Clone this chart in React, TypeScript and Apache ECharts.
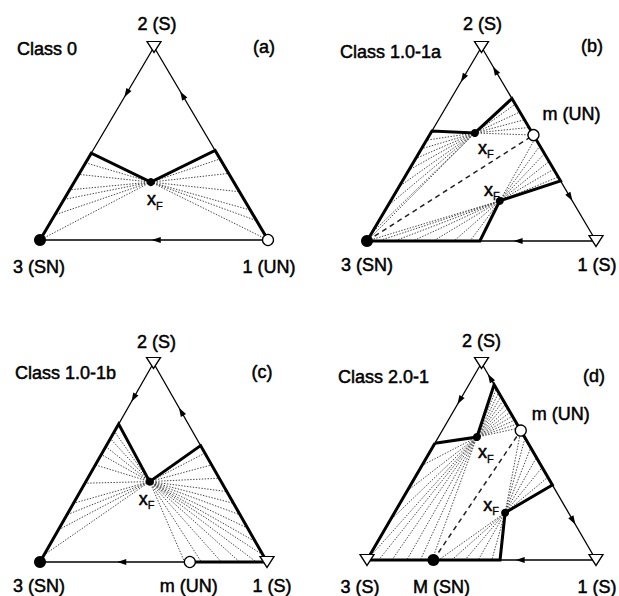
import { useEffect, useRef } from "react";
import * as echarts from "echarts";

type Pt = [number, number];

const FONT = '"Liberation Sans", Arial, Helvetica, sans-serif';
const FONT_SIZE = 18;
const INK = "#000";

// Triangle corners in composition space: 3 bottom-left, 1 bottom-right, 2 apex.
const CORNER3: Pt = [0, 0];
const CORNER1: Pt = [1, 0];
const APEX: Pt = [0.5, 1];
const onLeft = (t: number): Pt => [t / 2, t]; // edge 3-2, t = height fraction
const onRight = (t: number): Pt => [1 - t / 2, t]; // edge 1-2
const onBase = (s: number): Pt => [s, 0]; // edge 3-1

// ---- (a) Class 0 ----
const aFeed: Pt = [0.486, 0.3];
const aLeftKink = 0.45;
const aRightKink = 0.464;
const aFanLeft = [0, 0.13, 0.21, 0.26, 0.34, 0.4];
const aFanRight = [0, 0.1, 0.155, 0.25, 0.345, 0.42];
const aArrows: [string, number][] = [["left-down", 0.76], ["right-up", 0.75], ["base-left", 0.51]];

// ---- (b) Class 1.0-1a ----
const bFeedTop: Pt = [0.471, 0.557];
const bFeedLow: Pt = [0.58, 0.207];
const bSaddle = 0.546;
const bLeftKink = 0.567;
const bRightKinkTop = 0.734;
const bRightKinkLow = 0.31;
const bBaseKink = 0.493;
const bFanTopLeft = [0, 0.04, 0.18, 0.28, 0.365, 0.425, 0.475, 0.52];
const bFanTopRight = [0.546, 0.585, 0.625, 0.665, 0.705];
const bFanLowBase = [0, 0.05, 0.12, 0.2, 0.29, 0.38, 0.45];
const bFanLowRight = [0.33, 0.37, 0.41, 0.45, 0.49, 0.53];
const bArrows: [string, number][] = [["left-down", 0.84], ["right-up", 0.88], ["right-down", 0.226], ["base-left", 0.66]];

// ---- (c) Class 1.0-1b ----
const cFeed: Pt = [0.483, 0.404];
const cSaddle = 0.66;
const cLeftKink = 0.693;
const cRightKink = 0.585;
const cFanLeft = [0.035, 0.161, 0.237, 0.295, 0.396, 0.488, 0.54, 0.58, 0.62, 0.656];
const cFanRight = [0.035, 0.102, 0.17, 0.237, 0.295, 0.354, 0.421, 0.488, 0.547];
const cFanBase = [0.637, 0.711, 0.799, 0.88, 0.953];
const cArrows: [string, number][] = [["left-down", 0.825], ["right-up", 0.756], ["base-left", 0.36]];

// ---- (d) Class 2.0-1 ----
const dFeedTop: Pt = [0.48, 0.624];
const dFeedLow: Pt = [0.603, 0.24];
const dSaddle = 0.657;
const dNode = 0.29;
const dLeftKink = 0.593;
const dRightKinkTop = 0.89;
const dRightKinkLow = 0.381;
const dBaseKink = 0.581;
const dFanTopRight = [0.67, 0.69, 0.71, 0.73, 0.75, 0.77, 0.79, 0.81, 0.83, 0.85, 0.87];
const dFanTopLeft = [0.2, 0.35, 0.48];
const dFanTopBase = [0, 0.051, 0.109, 0.174, 0.233, 0.284];
const dFanLowRight = [0.42, 0.47, 0.52, 0.57, 0.62, 0.657];
const dFanLowBase = [0.313, 0.37, 0.428, 0.486, 0.545];
const dArrows: [string, number][] = [["left-down", 0.81], ["right-up", 0.924], ["right-down", 0.2], ["base-left", 0.669]];

const classNames = ["Class 0", "Class 1.0-1a", "Class 1.0-1b", "Class 2.0-1"];
const panelTags = ["(a)", "(b)", "(c)", "(d)"];

// Pixel frame of each triangle (base from left to right, apex at top)
const FRAMES = [
  { left: 40, top: 47, width: 228, height: 193 },
  { left: 367, top: 47, width: 229, height: 194 },
  { left: 40, top: 363, width: 227, height: 199 },
  { left: 367, top: 363, width: 229, height: 197 },
];
const TITLE_POS = [
  { cls: [17, 49], tag: [264, 47] },
  { cls: [340, 52], tag: [592, 46] },
  { cls: [15, 373], tag: [262, 372] },
  { cls: [338, 377], tag: [594, 376] },
];

type NodeKind = "stable" | "unstable" | "node";
interface NodeSpec { kind: NodeKind; p: Pt; label: string; offset: [number, number] }
interface Panel {
  bold: Pt[][];
  fans: [Pt, Pt][];
  dashed: [Pt, Pt][];
  arrows: [string, number][];
  nodes: NodeSpec[];
  feeds: { p: Pt; offset: [number, number] }[];
}

const fan = (from: Pt, ends: number[], edge: (v: number) => Pt): [Pt, Pt][] =>
  ends.map((v) => [from, edge(v)] as [Pt, Pt]);

const panels: Panel[] = [
  {
    bold: [[CORNER3, onLeft(aLeftKink), aFeed, onRight(aRightKink), CORNER1]],
    fans: [...fan(aFeed, aFanLeft, onLeft), ...fan(aFeed, aFanRight, onRight)],
    dashed: [],
    arrows: aArrows,
    nodes: [
      { kind: "stable", p: APEX, label: "2 (S)", offset: [3, -23] },
      { kind: "node", p: CORNER3, label: "3 (SN)", offset: [-1, 27] },
      { kind: "unstable", p: CORNER1, label: "1 (UN)", offset: [1, 27] },
    ],
    feeds: [{ p: aFeed, offset: [4, 17] }],
  },
  {
    bold: [[CORNER3, onBase(bBaseKink), bFeedLow, onRight(bRightKinkLow), onRight(bRightKinkTop), bFeedTop, onLeft(bLeftKink), CORNER3]],
    fans: [
      ...fan(bFeedTop, bFanTopLeft, onLeft),
      ...fan(bFeedTop, bFanTopRight, onRight),
      ...fan(bFeedLow, bFanLowBase, onBase),
      ...fan(bFeedLow, bFanLowRight, onRight),
    ],
    dashed: [[CORNER3, onRight(bSaddle)]],
    arrows: bArrows,
    nodes: [
      { kind: "stable", p: APEX, label: "2 (S)", offset: [1, -23] },
      { kind: "node", p: CORNER3, label: "3 (SN)", offset: [0, 24] },
      { kind: "stable", p: CORNER1, label: "1 (S)", offset: [1, 24] },
      { kind: "unstable", p: onRight(bSaddle), label: "m (UN)", offset: [38, -21] },
    ],
    feeds: [
      { p: bFeedTop, offset: [11, 15] },
      { p: bFeedLow, offset: [-8, -11] },
    ],
  },
  {
    bold: [[CORNER3, onLeft(cLeftKink), cFeed, onRight(cRightKink), CORNER1], [onBase(cSaddle), CORNER1]],
    fans: [...fan(cFeed, cFanLeft, onLeft), ...fan(cFeed, cFanRight, onRight), ...fan(cFeed, cFanBase, onBase)],
    dashed: [],
    arrows: cArrows,
    nodes: [
      { kind: "stable", p: APEX, label: "2 (S)", offset: [3, -21] },
      { kind: "node", p: CORNER3, label: "3 (SN)", offset: [-1, 24] },
      { kind: "unstable", p: onBase(cSaddle), label: "m (UN)", offset: [-1, 24] },
      { kind: "stable", p: CORNER1, label: "1 (S)", offset: [5, 24] },
    ],
    feeds: [{ p: cFeed, offset: [-3, 17] }],
  },
  {
    bold: [[onLeft(dLeftKink), dFeedTop, onRight(dRightKinkTop), onRight(dRightKinkLow), dFeedLow, onBase(dBaseKink), CORNER3, onLeft(dLeftKink)]],
    fans: [
      ...fan(dFeedTop, dFanTopRight, onRight),
      ...fan(dFeedTop, dFanTopLeft, onLeft),
      ...fan(dFeedTop, dFanTopBase, onBase),
      ...fan(dFeedLow, dFanLowRight, onRight),
      ...fan(dFeedLow, dFanLowBase, onBase),
    ],
    dashed: [[onBase(dNode), onRight(dSaddle)]],
    arrows: dArrows,
    nodes: [
      { kind: "stable", p: APEX, label: "2 (S)", offset: [0, -22] },
      { kind: "stable", p: CORNER3, label: "3 (S)", offset: [-7, 27] },
      { kind: "node", p: onBase(dNode), label: "M (SN)", offset: [8, 27] },
      { kind: "stable", p: CORNER1, label: "1 (S)", offset: [1, 27] },
      { kind: "unstable", p: onRight(dSaddle), label: "m (UN)", offset: [40, -17] },
    ],
    feeds: [
      { p: dFeedTop, offset: [9, 15] },
      { p: dFeedLow, offset: [-14, -8] },
    ],
  },
];

function arrowPoint(kind: string, v: number): Pt {
  if (kind === "left-down") return onLeft(v);
  if (kind === "base-left") return onBase(v);
  return onRight(v);
}

// Rotation of the arrowhead so that it points along the edge on screen
function arrowRotate(kind: string, w: number, h: number): number {
  let vx = -1;
  let vy = 0; // screen vector, y down
  if (kind === "left-down") { vx = -w / 2; vy = h; }
  if (kind === "right-up") { vx = -w / 2; vy = -h; }
  if (kind === "right-down") { vx = w / 2; vy = h; }
  const ang = (Math.atan2(-vy, vx) * 180) / Math.PI;
  return ang - 90;
}

const nodeStyle: Record<NodeKind, any> = {
  stable: { symbol: "triangle", symbolSize: [14, 11], symbolRotate: 180, itemStyle: { color: "#fff", borderColor: "#000", borderWidth: 1.3, opacity: 1 } },
  unstable: { symbol: "circle", symbolSize: 11, itemStyle: { color: "#fff", borderColor: "#000", borderWidth: 1.3, opacity: 1 } },
  node: { symbol: "circle", symbolSize: 12, itemStyle: { color: "#000", borderColor: "#000", borderWidth: 0, opacity: 1 } },
};

// A thin outline in the text colour gives the heavier print look
const TEXT_WEIGHT = 0.5;
const textStyle = {
  color: INK, fontFamily: FONT, fontSize: FONT_SIZE,
  textBorderColor: INK, textBorderWidth: TEXT_WEIGHT,
};

function buildOption() {
  const grid = FRAMES.map((f) => ({ left: f.left, top: f.top, width: f.width, height: f.height }));
  const xAxis = FRAMES.map((_, i) => ({ type: "value", gridIndex: i, min: 0, max: 1, show: false }));
  const yAxis = FRAMES.map((_, i) => ({ type: "value", gridIndex: i, min: 0, max: 1, show: false }));
  const series: any[] = [];

  panels.forEach((p, i) => {
    const f = FRAMES[i];
    const axes = { xAxisIndex: i, yAxisIndex: i, silent: true, clip: false };

    series.push({
      type: "line", ...axes, data: [CORNER3, CORNER1, APEX, CORNER3], symbol: "none",
      lineStyle: { color: "#000", width: 1.3 }, z: 2,
    });
    series.push({
      type: "lines", coordinateSystem: "cartesian2d", ...axes,
      data: p.fans.map((c) => ({ coords: c })),
      lineStyle: { color: "#444", width: 1, type: [1.4, 1.5], opacity: 1 }, z: 3,
    });
    if (p.dashed.length) {
      series.push({
        type: "lines", coordinateSystem: "cartesian2d", ...axes,
        data: p.dashed.map((c) => ({ coords: c })),
        lineStyle: { color: "#222", width: 1.5, type: [5, 4], opacity: 1 }, z: 4,
      });
    }
    p.bold.forEach((path) => {
      series.push({
        type: "line", ...axes, data: path, symbol: "none",
        lineStyle: { color: "#000", width: 3, join: "miter" }, z: 5,
      });
    });
    series.push({
      type: "scatter", ...axes, symbol: "triangle", symbolSize: [6, 9],
      itemStyle: { color: "#000", opacity: 1 }, z: 6,
      data: p.arrows.map(([k, v]) => ({ value: arrowPoint(k, v), symbolRotate: arrowRotate(k, f.width, f.height) })),
    });
    series.push({
      type: "scatter", ...axes, z: 7,
      data: p.nodes.map((n) => ({
        value: n.p, name: n.label, ...nodeStyle[n.kind],
        label: { show: true, position: "inside", offset: n.offset, formatter: "{b}", ...textStyle },
      })),
    });
    series.push({
      type: "scatter", ...axes, z: 7, symbol: "circle", symbolSize: 8, itemStyle: { color: "#000", opacity: 1 },
      data: p.feeds.map((fd) => ({
        value: fd.p, name: "xF",
        label: {
          show: true, position: "inside", offset: fd.offset, formatter: "{x|x}{s|F}",
          rich: {
            x: { fontFamily: FONT, fontSize: FONT_SIZE, lineHeight: 18, color: INK, verticalAlign: "top", textBorderColor: INK, textBorderWidth: TEXT_WEIGHT },
            s: { fontFamily: FONT, fontSize: 11, lineHeight: 11, color: INK, verticalAlign: "top", padding: [10, 0, 0, 0], textBorderColor: INK, textBorderWidth: 0.35 },
          },
        },
      })),
    });
  });

  const graphic: any[] = [];
  const titleFont = `${FONT_SIZE}px ${FONT}`;
  TITLE_POS.forEach((tp, i) => {
    graphic.push({
      type: "text", x: tp.cls[0], y: tp.cls[1], silent: true,
      style: { text: classNames[i], fill: INK, stroke: INK, lineWidth: TEXT_WEIGHT, font: titleFont, textAlign: "left", textVerticalAlign: "middle", align: "left", verticalAlign: "middle" },
    });
    graphic.push({
      type: "text", x: tp.tag[0], y: tp.tag[1], silent: true,
      style: { text: panelTags[i], fill: INK, stroke: INK, lineWidth: TEXT_WEIGHT, font: titleFont, textAlign: "center", textVerticalAlign: "middle", align: "center", verticalAlign: "middle" },
    });
  });

  return { animation: false, backgroundColor: "#fff", grid, xAxis, yAxis, series, graphic };
}

export default function App() {
  const ref = useRef<HTMLDivElement>(null);
  useEffect(() => {
    if (!ref.current) return;
    const chart = echarts.init(ref.current, undefined, { renderer: "svg" });
    chart.setOption(buildOption() as any);
    return () => chart.dispose();
  }, []);
  return <div ref={ref} style={{ position: "fixed", left: 0, top: 0, width: 619, height: 596 }} />;
}
